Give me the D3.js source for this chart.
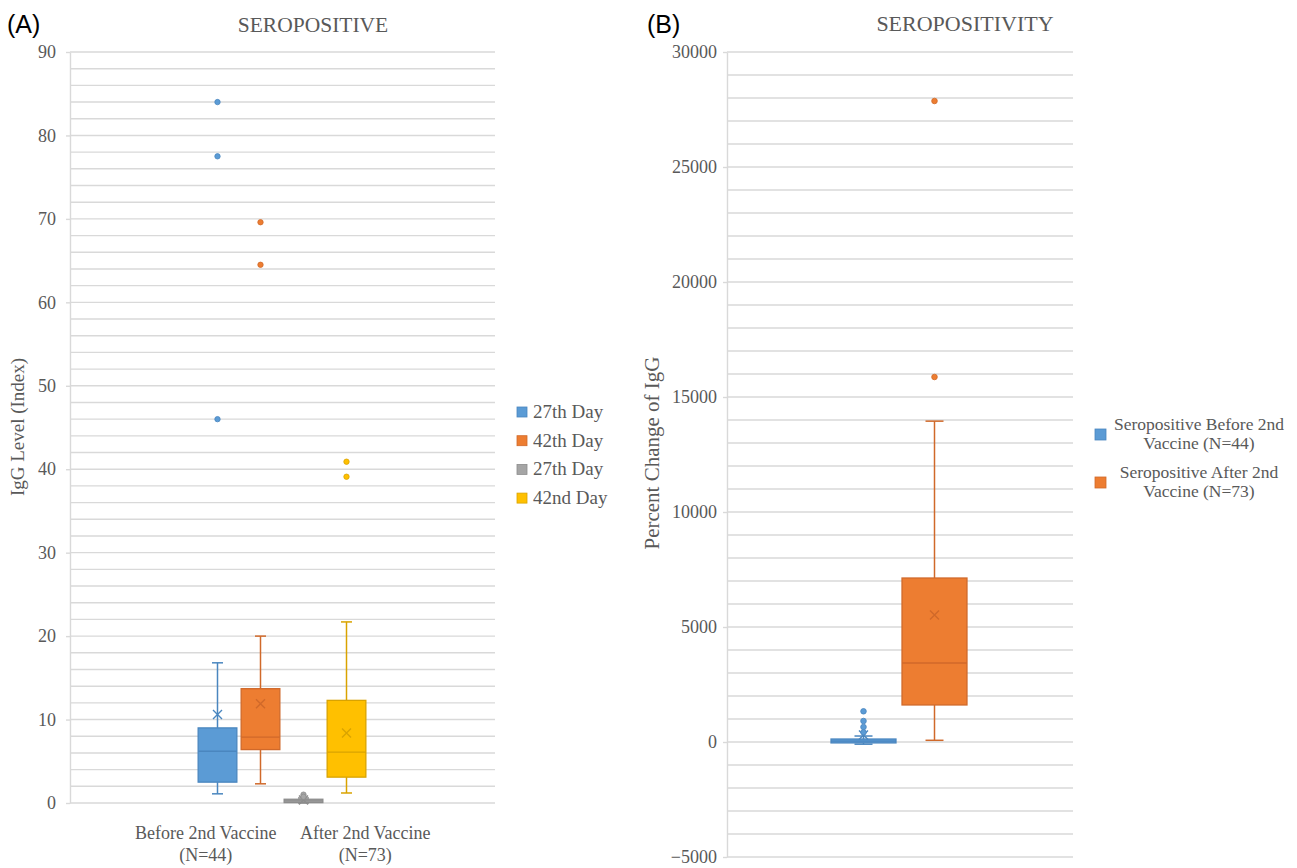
<!DOCTYPE html>
<html>
<head>
<meta charset="utf-8">
<script src="https://cdn.jsdelivr.net/npm/d3@7"></script>
<style>
  body { margin: 0; background: #ffffff; }
  svg { display: block; }
</style>
</head>
<body>
<div id="chart"></div>
<script>
//--- Data: panel A (IgG level) ---------------------------------------------
const categoriesA = [['Before 2nd Vaccine', '(N=44)'], ['After 2nd Vaccine', '(N=73)']];
const seriesA = ['27th Day', '42th Day', '27th Day', '42nd Day'];
const minA = [1.1, 2.3, 0.0, 1.2];
const q1A = [2.5, 6.4, 0.05, 3.1];
const medianA = [6.2, 7.9, 0.25, 6.1];
const q3A = [9.0, 13.7, 0.45, 12.3];
const maxA = [16.8, 20.0, 0.6, 21.7];
const meanA = [10.6, 11.9, 0.35, 8.4];
const outliersA = [[84.0, 77.5, 46.0], [69.6, 64.5], [1.0, 0.75], [40.9, 39.1]];
const ticksA = [0, 10, 20, 30, 40, 50, 60, 70, 80, 90];

//--- Data: panel B (percent change of IgG) ----------------------------------
const seriesB = [['Seropositive Before 2nd', 'Vaccine (N=44)'], ['Seropositive After 2nd', 'Vaccine (N=73)']];
const minB = [-95, 74];
const q1B = [-40, 1610];
const medianB = [40, 3435];
const q3B = [130, 7130];
const maxB = [260, 13950];
const meanB = [300, 5520];
const outliersB = [[1335, 913, 652, 420], [27870, 15870]];
const ticksB = [-5000, 0, 5000, 10000, 15000, 20000, 25000, 30000];

//--- Styles -----------------------------------------------------------------
const fillsA = ['#5B9BD5', '#ED7D31', '#A5A5A5', '#FFC000'];
const strokesA = ['#4A86BF', '#D0692A', '#8C8C8C', '#D9A300'];
const fillsB = ['#5B9BD5', '#ED7D31'];
const strokesB = ['#4A86BF', '#D0692A'];
const serif = '"Liberation Serif", "Times New Roman", serif';
const sans = '"Liberation Sans", Arial, sans-serif';
const textGray = '#595959';
const gridGray = '#D9D9D9';

const width = 1297;
const height = 868;

const mySVG = d3.select('#chart')
    .append('svg')
        .attr('width', width)
        .attr('height', height);

// build box records from the arrays
function makeBoxes(mins, q1s, meds, q3s, maxs, means, outs) {
    return mins.map((d, i) => ({
        i: i, min: d, q1: q1s[i], median: meds[i], q3: q3s[i], max: maxs[i], mean: means[i], outliers: outs[i]
    }));
}

// y axis with gridlines
function drawYAxis(g, y, left, right, ticks, gridStep, padding) {
    let domain = y.domain();
    g.append('g')
        .selectAll('line')
        .data(d3.range(domain[0], domain[1] + gridStep / 2, gridStep))
        .join('line')
            .attr('x1', left)
            .attr('x2', right)
            .attr('y1', d => y(d))
            .attr('y2', d => y(d))
            .style('stroke', gridGray)
            .style('stroke-width', 1.4);

    let axis = g.append('g')
        .attr('transform', `translate(${left},0)`)
        .call(d3.axisLeft(y).tickValues(ticks).tickSize(4).tickSizeOuter(0).tickPadding(padding).tickFormat(d3.format('d')));
    axis.select('.domain').style('stroke', gridGray).style('stroke-width', 1.4);
    axis.selectAll('.tick line').style('stroke', gridGray).style('stroke-width', 1.4);
    axis.selectAll('.tick text')
        .style('font-family', serif)
        .style('font-size', '18px')
        .style('fill', textGray);
}

// box and whisker marks
function drawBoxes(g, boxes, x, y, fills, strokes, capW, dotR) {
    let bw = x.bandwidth();
    let cx = d => x(d.i) + bw / 2;
    let gb = g.append('g');

    // whiskers
    gb.selectAll('.whiskerUp').data(boxes).join('line')
        .attr('x1', cx).attr('x2', cx)
        .attr('y1', d => y(d.q3)).attr('y2', d => y(d.max))
        .style('stroke', d => strokes[d.i]).style('stroke-width', 1.5);
    gb.selectAll('.whiskerDown').data(boxes).join('line')
        .attr('x1', cx).attr('x2', cx)
        .attr('y1', d => y(d.q1)).attr('y2', d => y(d.min))
        .style('stroke', d => strokes[d.i]).style('stroke-width', 1.5);
    ['max', 'min'].forEach(k => {
        gb.selectAll('.cap' + k).data(boxes).join('line')
            .attr('x1', d => cx(d) - capW / 2).attr('x2', d => cx(d) + capW / 2)
            .attr('y1', d => y(d[k])).attr('y2', d => y(d[k]))
            .style('stroke', d => strokes[d.i]).style('stroke-width', 1.5);
    });

    // boxes
    gb.selectAll('rect').data(boxes).join('rect')
        .attr('x', d => x(d.i))
        .attr('width', bw)
        .attr('y', d => y(d.q3))
        .attr('height', d => Math.max(2, y(d.q1) - y(d.q3)))
        .style('fill', d => fills[d.i])
        .style('stroke', d => strokes[d.i])
        .style('stroke-width', 1.3);

    // median
    gb.selectAll('.median').data(boxes).join('line')
        .attr('x1', d => x(d.i)).attr('x2', d => x(d.i) + bw)
        .attr('y1', d => y(d.median)).attr('y2', d => y(d.median))
        .style('stroke', d => strokes[d.i]).style('stroke-width', 1.3);

    // mean markers (x)
    let m = 4.5;
    gb.selectAll('.mean').data(boxes).join('path')
        .attr('d', d => {
            let px = cx(d), py = y(d.mean);
            return `M${px - m},${py - m}L${px + m},${py + m}M${px - m},${py + m}L${px + m},${py - m}`;
        })
        .style('fill', 'none')
        .style('stroke', d => strokes[d.i])
        .style('stroke-width', 1.4);

    // outliers
    let outs = boxes.flatMap(d => d.outliers.map(v => ({i: d.i, v: v, cx: cx(d)})));
    gb.selectAll('circle').data(outs).join('circle')
        .attr('cx', d => d.cx)
        .attr('cy', d => y(d.v))
        .attr('r', dotR)
        .style('fill', d => fills[d.i])
        .style('stroke', d => strokes[d.i])
        .style('stroke-width', 0.8);
}

//--- Panel A -----------------------------------------------------------------
const leftA = 70, rightA = 495, topA = 52, bottomA = 803;
let gA = mySVG.append('g');

let yA = d3.scaleLinear().domain([0, 90]).range([bottomA, topA]);
drawYAxis(gA, yA, leftA, rightA, ticksA, 2, 10);

let xA = d3.scaleBand()
    .domain(d3.range(seriesA.length))
    .range([196, 368])
    .paddingInner(0.1)
    .paddingOuter(0.05);

drawBoxes(gA, makeBoxes(minA, q1A, medianA, q3A, maxA, meanA, outliersA), xA, yA, fillsA, strokesA, 11, 2.7);

// category labels
let catA = d3.scaleBand().domain(d3.range(categoriesA.length)).range([126, 445]);
gA.selectAll('.catLabel').data(categoriesA).join('text')
    .attr('x', (d, i) => catA(i) + catA.bandwidth() / 2)
    .attr('y', 839)
    .attr('text-anchor', 'middle')
    .style('font-family', serif)
    .style('font-size', '18px')
    .style('fill', textGray)
    .selectAll('tspan').data(d => d).join('tspan')
        .attr('x', function() { return d3.select(this.parentNode).attr('x'); })
        .attr('dy', (d, i) => i === 0 ? 0 : 22)
        .text(d => d);

gA.append('text')
    .attr('x', 313).attr('y', 32)
    .attr('text-anchor', 'middle')
    .style('font-family', serif).style('font-size', '21.5px').style('fill', textGray)
    .text('SEROPOSITIVE');

gA.append('text')
    .attr('transform', 'translate(24,427) rotate(-90)')
    .attr('text-anchor', 'middle')
    .style('font-family', serif).style('font-size', '19px').style('fill', textGray)
    .text('IgG Level (Index)');

gA.append('text')
    .attr('x', 7).attr('y', 33)
    .style('font-family', sans).style('font-size', '25px').style('fill', '#000')
    .text('(A)');

// legend A
let legA = gA.append('g').attr('transform', 'translate(517,412)');
let legItemsA = legA.selectAll('g').data(seriesA).join('g')
    .attr('transform', (d, i) => `translate(0,${i * 28.7})`);
legItemsA.append('rect')
    .attr('x', 0).attr('y', -5).attr('width', 10).attr('height', 10)
    .style('fill', (d, i) => fillsA[i])
    .style('stroke', (d, i) => strokesA[i]).style('stroke-width', 0.8);
legItemsA.append('text')
    .attr('x', 16).attr('y', 6)
    .style('font-family', serif).style('font-size', '19px').style('fill', textGray)
    .text(d => d);

//--- Panel B -----------------------------------------------------------------
const leftB = 727, rightB = 1073, topB = 52, bottomB = 857;
let gB = mySVG.append('g');

let yB = d3.scaleLinear().domain([-5000, 30000]).range([bottomB, topB]);
drawYAxis(gB, yB, leftB, rightB, ticksB, 1000, 6);

let xB = d3.scaleBand()
    .domain(d3.range(seriesB.length))
    .range([828, 970])
    .paddingInner(0.085)
    .paddingOuter(0.0425);

drawBoxes(gB, makeBoxes(minB, q1B, medianB, q3B, maxB, meanB, outliersB), xB, yB, fillsB, strokesB, 18, 2.8);

gB.append('text')
    .attr('x', 965).attr('y', 31)
    .attr('text-anchor', 'middle')
    .style('font-family', serif).style('font-size', '22px').style('fill', textGray)
    .text('SEROPOSITIVITY');

gB.append('text')
    .attr('transform', 'translate(659,453) rotate(-90)')
    .attr('text-anchor', 'middle')
    .style('font-family', serif).style('font-size', '21px').style('fill', textGray)
    .text('Percent Change of IgG');

gB.append('text')
    .attr('x', 647).attr('y', 33)
    .style('font-family', sans).style('font-size', '25px').style('fill', '#000')
    .text('(B)');

// legend B
let legB = gB.append('g').attr('transform', 'translate(1095,434)');
let legItemsB = legB.selectAll('g').data(seriesB).join('g')
    .attr('transform', (d, i) => `translate(0,${i * 48})`);
legItemsB.append('rect')
    .attr('x', 0).attr('y', -5).attr('width', 11).attr('height', 11)
    .style('fill', (d, i) => fillsB[i])
    .style('stroke', (d, i) => strokesB[i]).style('stroke-width', 0.8);
legItemsB.append('text')
    .attr('x', 104).attr('y', -4)
    .attr('text-anchor', 'middle')
    .style('font-family', serif).style('font-size', '17.5px').style('fill', textGray)
    .selectAll('tspan').data(d => d).join('tspan')
        .attr('x', 104)
        .attr('dy', (d, i) => i === 0 ? 0 : 19)
        .text(d => d);
</script>
</body>
</html>
